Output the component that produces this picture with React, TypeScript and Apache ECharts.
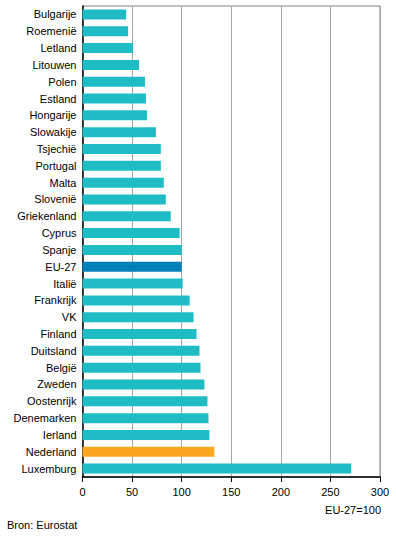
import React, { useEffect, useRef } from "react";
import * as echarts from "echarts";

const categories = [
  "Bulgarije", "Roemenië", "Letland", "Litouwen", "Polen", "Estland", "Hongarije",
  "Slowakije", "Tsjechië", "Portugal", "Malta", "Slovenië", "Griekenland", "Cyprus",
  "Spanje", "EU-27", "Italië", "Frankrijk", "VK", "Finland", "Duitsland", "België",
  "Zweden", "Oostenrijk", "Denemarken", "Ierland", "Nederland", "Luxemburg",
];
const values = [
  44, 46, 51, 57, 63, 64, 65, 74, 79, 79, 82, 84, 89, 98, 100, 100, 101, 108, 112,
  115, 118, 119, 123, 126, 127, 128, 133, 271,
];
const xTicks = [0, 50, 100, 150, 200, 250, 300];
const unitNote = "EU-27=100";
const source = "Bron: Eurostat";

const TEAL = "#1FBCC6";
const EU = "#0080B8";
const NL = "#F9A620";
const FONT = "'Liberation Sans', Arial, sans-serif";

export default function App() {
  const ref = useRef<HTMLDivElement>(null);
  useEffect(() => {
    if (!ref.current) return;
    const chart = echarts.init(ref.current, undefined, { renderer: "svg" });
    chart.setOption({
      animation: false,
      grid: {
        left: 82.5,
        right: 16,
        top: 6,
        bottom: 64,
        show: true,
        borderColor: "#808080",
        borderWidth: 1,
        backgroundColor: "transparent",
      },
      xAxis: {
        type: "value",
        min: xTicks[0],
        max: xTicks[xTicks.length - 1],
        interval: 50,
        axisLine: { show: true, lineStyle: { color: "#000", width: 1.5 } },
        axisTick: { show: true, length: 5, lineStyle: { color: "#000" } },
        axisLabel: { color: "#000", fontSize: 11, fontFamily: FONT, margin: 9 },
        splitLine: { show: true, lineStyle: { color: "#A6A6A6", width: 1 } },
      },
      yAxis: {
        type: "category",
        data: categories,
        inverse: true,
        axisLine: { show: true, lineStyle: { color: "#000", width: 1.5 } },
        axisTick: { show: false },
        axisLabel: { color: "#000", fontSize: 11, fontFamily: FONT, margin: 6 },
        splitLine: { show: false },
      },
      series: [
        {
          type: "bar",
          barWidth: 10,
          data: values.map((v, i) => ({
            value: v,
            itemStyle: {
              color: categories[i] === "EU-27" ? EU : categories[i] === "Nederland" ? NL : TEAL,
            },
          })),
        },
      ],
      graphic: [
        {
          type: "text",
          right: 15,
          top: 504,
          style: { text: unitNote, fill: "#000", font: `11px ${FONT}` },
        },
        {
          type: "text",
          left: 7,
          top: 519,
          style: { text: source, fill: "#000", font: `11px ${FONT}` },
        },
      ],
    });
    return () => chart.dispose();
  }, []);
  return (
    <div
      ref={ref}
      style={{ position: "fixed", left: 0, top: 0, width: 396, height: 541, background: "#fff" }}
    />
  );
}
